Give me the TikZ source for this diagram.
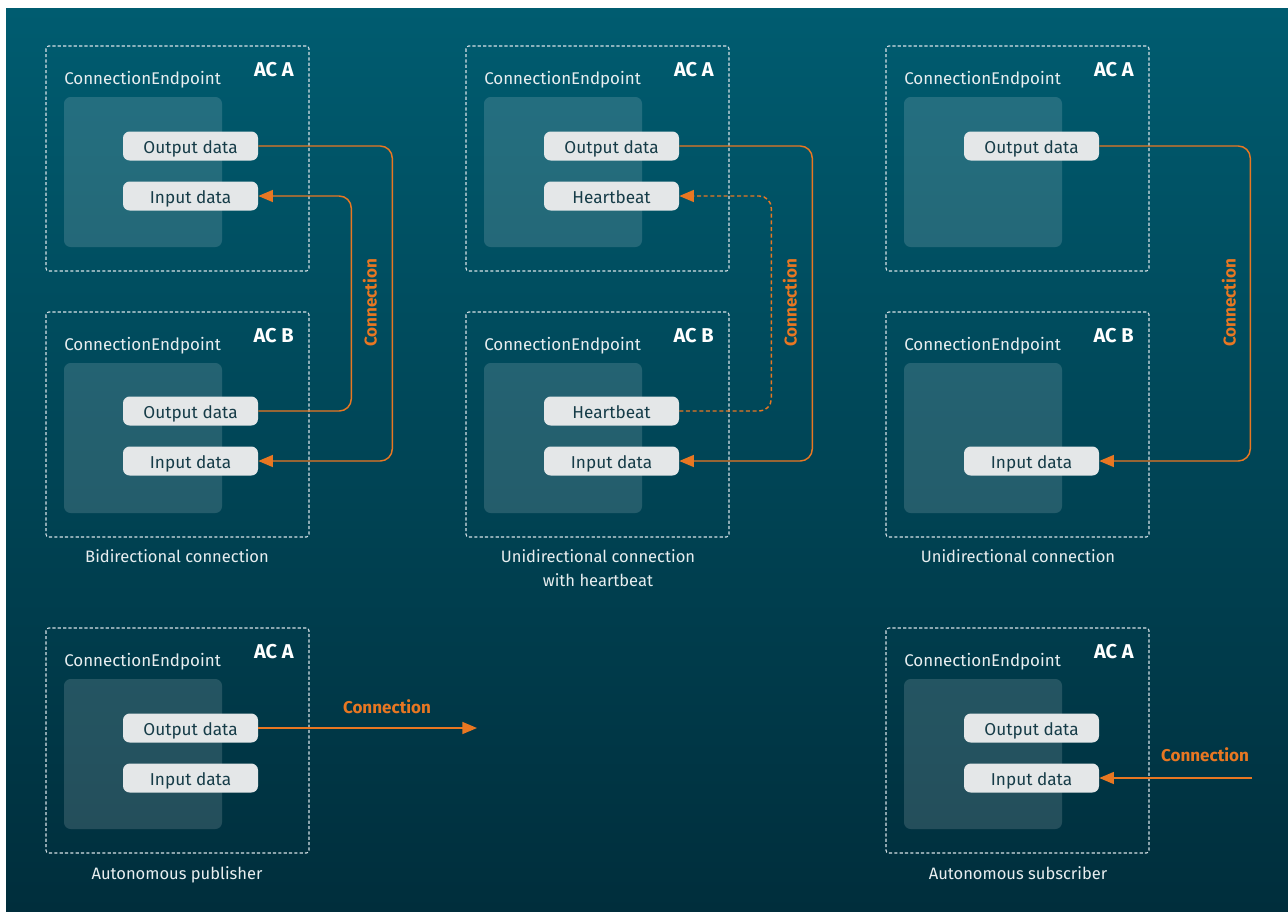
\documentclass[tikz,border=0pt]{standalone}
\usepackage{fontspec}
\setmainfont{Fira Sans}
\usetikzlibrary{arrows.meta,calc}
\definecolor{bgtop}{RGB}{0,92,112}
\definecolor{bgbot}{RGB}{0,46,60}
\definecolor{pillfill}{RGB}{228,231,232}
\definecolor{pilltext}{RGB}{22,60,72}
\definecolor{orng}{RGB}{232,119,34}
\definecolor{dashcol}{RGB}{215,225,230}
\definecolor{captcol}{RGB}{232,238,240}
\tikzset{
  vc/.style={text height=2.2ex,text depth=0.3ex},
  panelbox/.style={draw=dashcol,line width=0.8pt,dash pattern=on 2.4pt off 1.6pt,rounded corners=2pt},
  innerbox/.style={fill=white,fill opacity=0.14,rounded corners=5pt},
  pill/.style={fill=pillfill,rounded corners=5pt,minimum width=101.25pt,minimum height=21.75pt,inner sep=0pt,text height=2.35ex,text depth=0.3ex,text=pilltext,font=\fontsize{12.9pt}{14pt}\selectfont},
  celabel/.style={anchor=west,text=captcol,inner sep=0pt,vc,font=\fontsize{12.7pt}{14pt}\selectfont},
  aclabel/.style={anchor=east,text=white,inner sep=0pt,vc,font=\fontsize{15pt}{16pt}\selectfont\bfseries},
  caption/.style={text=captcol,inner sep=0pt,align=center,font=\fontsize{12.4pt}{18pt}\selectfont},
  conn/.style={draw=orng,line width=1.1pt,rounded corners=9pt,-{Triangle[length=11pt,width=9pt]}},
  connlabel/.style={text=orng,inner sep=0pt,vc,font=\fontsize{12.8pt}{14pt}\selectfont\bfseries},
}
\newcommand\drawpanel[4]{%
  \draw[panelbox] (#1,#2) rectangle ++(263,225);
  \fill[innerbox] ($(#1,#2)+(18,51)$) rectangle ++(158,150);
  \node[celabel] (#4ce) at ($(#1,#2)+(18,32)$) {ConnectionEndpoint};
  \node[aclabel] (#4ac) at ($(#1,#2)+(248,24)$) {#3};
}
\begin{document}
\begin{tikzpicture}[x=0.75pt,y=-0.75pt]
\useasboundingbox (0,0) rectangle (1288,911);
\fill[white] (0,0) rectangle (1288,911);
\shade[top color=bgtop,bottom color=bgbot] (6,8) rectangle (1288,911);

% panels
\drawpanel{46}{46}{AC A}{a1}
\drawpanel{46}{312}{AC B}{b1}
\drawpanel{466}{46}{AC A}{a2}
\drawpanel{466}{312}{AC B}{b2}
\drawpanel{886}{46}{AC A}{a3}
\drawpanel{886}{312}{AC B}{b3}
\drawpanel{46}{628}{AC A}{a4}
\drawpanel{886}{628}{AC A}{a5}

% pills
\node[pill] (p1ao) at (190.5,146) {Output data};
\node[pill] (p1ai) at (190.5,196) {Input data};
\node[pill] (p1bo) at (190.5,411) {Output data};
\node[pill] (p1bi) at (190.5,461) {Input data};

\node[pill] (p2ao) at (611.5,146) {Output data};
\node[pill] (p2ah) at (611.5,196) {Heartbeat};
\node[pill] (p2bh) at (611.5,411) {Heartbeat};
\node[pill] (p2bi) at (611.5,461) {Input data};

\node[pill] (p3ao) at (1031.5,146) {Output data};
\node[pill] (p3bi) at (1031.5,461) {Input data};

\node[pill] (p4o) at (190.5,728) {Output data};
\node[pill] (p4i) at (190.5,778) {Input data};

\node[pill] (p5o) at (1031.5,728) {Output data};
\node[pill] (p5i) at (1031.5,778) {Input data};

% connectors
\draw[conn] (p1ao.east) -- ++(134,0) |- (p1bi.east);
\draw[conn] (p1bo.east) -- ++(93,0) |- (p1ai.east);
\node[connlabel,rotate=90] (l1) at (370,303) {Connection};

\draw[conn] (p2ao.east) -- ++(133,0) |- (p2bi.east);
\draw[conn,dash pattern=on 3pt off 2pt] (p2bh.east) -- ++(92,0) |- (p2ah.east);
\node[connlabel,rotate=90] (l2) at (790,303) {Connection};

\draw[conn] (p3ao.east) -- ++(151,0) |- (p3bi.east);
\node[connlabel,rotate=90] (l3) at (1229,303) {Connection};

\coordinate (pubend) at (477,728);
\draw[conn] (p4o.east) -- (pubend);
\node[connlabel] (l4) at (387,707) {Connection};

\coordinate (substart) at (1252,778);
\draw[conn] (substart) -- (p5i.east);
\node[connlabel] (l5) at (1205,755) {Connection};

% captions
\node[caption,vc] (c1) at (177,556) {Bidirectional connection};
\node[caption] (c2) at (598,568) {Unidirectional connection\\with heartbeat};
\node[caption,vc] (c3) at (1018,556) {Unidirectional connection};
\node[caption,vc] (c4) at (177,873) {Autonomous publisher};
\node[caption,vc] (c5) at (1018,873) {Autonomous subscriber};
\end{tikzpicture}
\end{document}
